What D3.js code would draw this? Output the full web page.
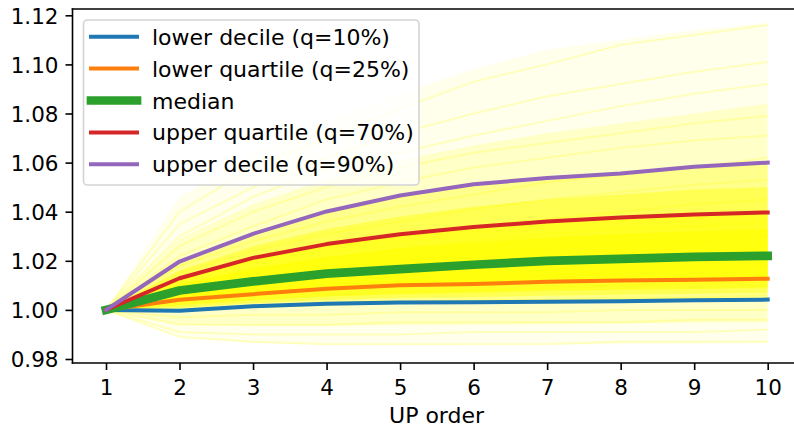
<!DOCTYPE html>
<html>
<head>
<meta charset="utf-8">
<script src="https://cdn.jsdelivr.net/npm/d3@7"></script>
<style>
  html, body { margin: 0; padding: 0; background: #fff; }
  svg { display: block; font-family: "DejaVu Sans", sans-serif; }
</style>
</head>
<body>
<svg id="chart" width="794" height="428"></svg>
<script>
// ---------- data ----------
const xOrders = [1, 2, 3, 4, 5, 6, 7, 8, 9, 10];
const xTickLabels = ["1", "2", "3", "4", "5", "6", "7", "8", "9", "10"];
const yTickValues = [0.98, 1.00, 1.02, 1.04, 1.06, 1.08, 1.10, 1.12];

const lowerDecile   = [1.000, 0.9997, 1.0015, 1.0025, 1.0030, 1.0031, 1.0033, 1.0035, 1.0039, 1.0042];
const lowerQuartile = [1.000, 1.0041, 1.0064, 1.0086, 1.0100, 1.0105, 1.0115, 1.0120, 1.0123, 1.0127];
const median        = [1.000, 1.0079, 1.0116, 1.0148, 1.0166, 1.0184, 1.0200, 1.0208, 1.0216, 1.0220];
const upperQuartile = [1.000, 1.0129, 1.0212, 1.0268, 1.0308, 1.0338, 1.0360, 1.0376, 1.0389, 1.0397];
const upperDecile   = [1.000, 1.0197, 1.0310, 1.0401, 1.0466, 1.0512, 1.0537, 1.0556, 1.0583, 1.0600];

const seriesNames = ["lower decile (q=10%)", "lower quartile (q=25%)", "median",
                     "upper quartile (q=70%)", "upper decile (q=90%)"];

// envelopes of the simulated (yellow) paths
const envMin  = [1.000, 0.989, 0.9865, 0.9858, 0.9858, 0.986, 0.986, 0.986, 0.9862, 0.9865];
const envMax  = [1.000, 1.046, 1.063, 1.077, 1.088, 1.098, 1.106, 1.110, 1.114, 1.117];
const envLo5  = [1.000, 0.994, 0.9935, 0.9935, 0.9938, 0.994, 0.9942, 0.9945, 0.9948, 0.995];
const envHi95 = [1.000, 1.029, 1.043, 1.053, 1.061, 1.067, 1.072, 1.076, 1.080, 1.084];
const envLo15 = [1.000, 1.0008, 1.0028, 1.004, 1.005, 1.0052, 1.0058, 1.0062, 1.0066, 1.007];
const envHi80 = [1.000, 1.016, 1.026, 1.033, 1.038, 1.042, 1.045, 1.047, 1.049, 1.050];
const envLo20 = [1.000, 1.002, 1.004, 1.0055, 1.0065, 1.007, 1.0078, 1.0082, 1.0085, 1.009];
const envHi60 = [1.000, 1.0105, 1.017, 1.0215, 1.025, 1.0275, 1.0295, 1.031, 1.032, 1.033];

// a sample of individual yellow paths
const samplePaths = [
  [1, 1.040, 1.058, 1.070, 1.082, 1.093, 1.100, 1.108, 1.112, 1.116],
  [1, 1.035, 1.050, 1.062, 1.072, 1.080, 1.087, 1.092, 1.097, 1.101],
  [1, 1.030, 1.046, 1.058, 1.064, 1.071, 1.077, 1.083, 1.088, 1.092],
  [1, 1.026, 1.040, 1.050, 1.058, 1.064, 1.068, 1.072, 1.076, 1.079],
  [1, 1.022, 1.034, 1.045, 1.052, 1.058, 1.062, 1.066, 1.069, 1.071],
  [1, 1.018, 1.028, 1.036, 1.042, 1.047, 1.052, 1.055, 1.058, 1.062],
  [1, 1.015, 1.024, 1.031, 1.036, 1.041, 1.045, 1.048, 1.051, 1.053],
  [1, 1.012, 1.020, 1.026, 1.030, 1.034, 1.037, 1.040, 1.043, 1.045],
  [1, 1.010, 1.016, 1.021, 1.025, 1.028, 1.031, 1.033, 1.034, 1.036],
  [1, 1.008, 1.013, 1.017, 1.020, 1.023, 1.025, 1.027, 1.028, 1.030],
  [1, 1.006, 1.010, 1.013, 1.015, 1.017, 1.019, 1.020, 1.022, 1.024],
  [1, 1.004, 1.007, 1.009, 1.011, 1.013, 1.014, 1.016, 1.017, 1.018],
  [1, 1.002, 1.004, 1.006, 1.007, 1.008, 1.009, 1.010, 1.011, 1.012],
  [1, 1.000, 1.001, 1.002, 1.003, 1.004, 1.004, 1.005, 1.005, 1.006],
  [1, 0.997, 0.998, 0.998, 0.999, 0.999, 0.999, 1.000, 1.000, 1.000],
  [1, 0.994, 0.994, 0.994, 0.995, 0.995, 0.995, 0.995, 0.996, 0.996],
  [1, 0.991, 0.990, 0.990, 0.990, 0.991, 0.991, 0.991, 0.991, 0.992],
  [1, 0.989, 0.987, 0.986, 0.986, 0.986, 0.986, 0.987, 0.987, 0.987]
];

// ---------- layout ----------
const frame = { left: 72.5, right: 800.6, top: 9, bottom: 363 };
const TICK_FONT = 21.5;
const LEG_FONT = 22;

const svg = d3.select("#chart");
const x = d3.scaleLinear().domain([1, 10]).range([106, 767.7]);
const y = d3.scaleLinear().domain([0.98, 1.12]).range([359, 15.3]);

svg.append("defs").append("clipPath").attr("id", "clip")
  .append("rect")
  .attr("x", frame.left).attr("y", frame.top)
  .attr("width", frame.right - frame.left).attr("height", frame.bottom - frame.top);

const plot = svg.append("g").attr("clip-path", "url(#clip)");

// yellow bands
const band = (lo, hi) => d3.area()
  .x((d, i) => x(xOrders[i]))
  .y0((d, i) => y(lo[i]))
  .y1((d, i) => y(hi[i]))(xOrders);

const bands = [
  [envMin, envMax, 0.08],
  [envLo5, envHi95, 0.15],
  [lowerDecile, upperDecile, 0.3],
  [envLo15, envHi80, 0.4],
  [envLo20, upperQuartile, 0.55],
  [lowerQuartile, envHi60, 0.6]
];
bands.forEach(([lo, hi, op]) => {
  plot.append("path").attr("d", band(lo, hi))
    .attr("fill", "#ffff00").attr("fill-opacity", op).attr("stroke", "none");
});

const line = d3.line().x((d, i) => x(xOrders[i])).y(d => y(d));

plot.selectAll(".sample").data(samplePaths).enter().append("path")
  .attr("class", "sample")
  .attr("d", line)
  .attr("fill", "none")
  .attr("stroke", "#ffff00")
  .attr("stroke-opacity", 0.2)
  .attr("stroke-width", 2);

// quantile lines
const series = [
  { name: seriesNames[0], values: lowerDecile,   color: "#1f77b4", width: 4 },
  { name: seriesNames[1], values: lowerQuartile, color: "#ff7f0e", width: 4 },
  { name: seriesNames[2], values: median,        color: "#2ca02c", width: 8.7 },
  { name: seriesNames[3], values: upperQuartile, color: "#d62728", width: 4 },
  { name: seriesNames[4], values: upperDecile,   color: "#9467bd", width: 4 }
];

series.forEach(s => {
  plot.append("path")
    .attr("d", line(s.values))
    .attr("fill", "none")
    .attr("stroke", s.color)
    .attr("stroke-width", s.width)
    .attr("stroke-linecap", "square")
    .attr("stroke-linejoin", "round");
});

// axes
const yAxis = d3.axisLeft(y).tickValues(yTickValues).tickFormat(d3.format(".2f"))
  .tickSize(7).tickPadding(7);
const gy = svg.append("g").attr("transform", `translate(${frame.left},0)`).call(yAxis);
gy.select(".domain").remove();
gy.selectAll(".tick line").attr("stroke", "#000").attr("stroke-width", 1.6);
gy.selectAll(".tick text").attr("font-size", TICK_FONT).attr("fill", "#000")
  .attr("font-family", "DejaVu Sans").attr("dy", "0.36em");

const xAxis = d3.axisBottom(x).tickValues(xOrders).tickFormat((d, i) => xTickLabels[i])
  .tickSize(7).tickPadding(10);
const gx = svg.append("g").attr("transform", `translate(0,${frame.bottom})`).call(xAxis);
gx.select(".domain").remove();
gx.selectAll(".tick line").attr("stroke", "#000").attr("stroke-width", 1.6);
gx.selectAll(".tick text").attr("font-size", TICK_FONT).attr("fill", "#000")
  .attr("font-family", "DejaVu Sans");

// spines
const spine = (x1, y1, x2, y2) => svg.append("line")
  .attr("x1", x1).attr("y1", y1).attr("x2", x2).attr("y2", y2)
  .attr("stroke", "#000").attr("stroke-width", 1.6).attr("stroke-linecap", "square");
spine(frame.left, frame.top, frame.left, frame.bottom);
spine(frame.left, frame.bottom, frame.right, frame.bottom);
spine(frame.left, frame.top, frame.right, frame.top);
spine(frame.right, frame.top, frame.right, frame.bottom);

// x label
svg.append("text")
  .attr("x", (frame.left + frame.right) / 2)
  .attr("y", 423)
  .attr("text-anchor", "middle")
  .attr("font-size", LEG_FONT)
  .attr("fill", "#000")
  .text("UP order");

// legend
const leg = svg.append("g");
leg.append("rect")
  .attr("x", 83.5).attr("y", 20).attr("width", 335.5).attr("height", 165)
  .attr("rx", 4).attr("ry", 4)
  .attr("fill", "#fff").attr("fill-opacity", 0.8)
  .attr("stroke", "#d4d4d4").attr("stroke-width", 1.6);

series.forEach((s, i) => {
  const cy = 36.7 + i * 31.9;
  leg.append("line")
    .attr("x1", 91).attr("x2", 137).attr("y1", cy).attr("y2", cy)
    .attr("stroke", s.color).attr("stroke-width", s.width)
    .attr("stroke-linecap", "square");
  leg.append("text")
    .attr("x", 152).attr("y", cy + 8)
    .attr("font-size", LEG_FONT).attr("fill", "#000")
    .text(s.name);
});
</script>
</body>
</html>
